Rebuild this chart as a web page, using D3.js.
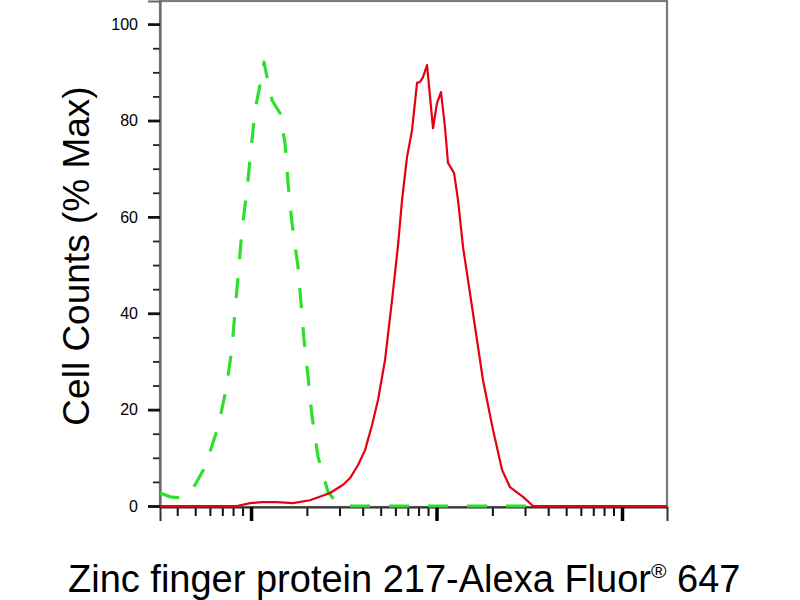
<!DOCTYPE html>
<html>
<head>
<meta charset="utf-8">
<script src="https://cdn.jsdelivr.net/npm/d3@7/dist/d3.min.js"></script>
<style>
  html, body { margin: 0; padding: 0; background: #fff; }
  svg { display: block; }
  text { font-family: "Liberation Sans", Arial, sans-serif; fill: #000; }
</style>
</head>
<body>
<svg id="chart" width="800" height="600"></svg>
<script>
// ---- data ----
// isotype control (green dashed)
const controlX = [32.3, 36.6, 41.4, 48.1, 56.5, 66.4, 73.3, 79.0, 82.0, 85.1, 89.4, 95.1, 100, 105.1, 113.2, 117.5, 123.5, 129.8, 143.3, 152.5, 158.3, 166.3, 179.2, 186.0, 193.1, 202.9, 213.3, 229.7, 260.1, 290.8, 321.1, 3614];
const controlY = [2.7, 1.9, 1.7, 3.3, 8.1, 16.4, 24.1, 32.8, 40.7, 47.5, 57.3, 65.6, 73.9, 82.2, 88.4, 92.1, 88.0, 84.2, 81.5, 75.3, 67.0, 58.7, 49.6, 42.1, 34.4, 26.8, 18.5, 10.2, 2.9, 0.6, 0, 0];
// stained sample (red solid)
const sampleX = [32.3, 84.0, 98.8, 114.6, 138.1, 168.4, 208.0, 266.7, 313.3, 341.8, 377.5, 411.8, 449.2, 483.7, 527.8, 575.6, 620.2, 651.7, 693.4, 737.9, 785.1, 815.0, 845.8, 888.9, 957.4, 1006, 1057, 1111, 1153, 1243, 1306, 1390, 1573, 1781, 2016, 2255, 2490, 2926, 3314, 17481];
const sampleY = [0, 0, 0.6, 0.8, 0.8, 0.6, 1.2, 2.7, 4.4, 5.8, 8.5, 11.6, 16.8, 22.0, 30.3, 42.7, 54.1, 63.5, 72.4, 78.0, 87.8, 88.0, 89.0, 91.5, 78.4, 83.6, 85.9, 78.6, 71.2, 69.1, 63.5, 53.7, 40.0, 26.1, 15.8, 7.5, 3.9, 1.9, 0, 0];

const yMajorTicks = [0, 20, 40, 60, 80, 100];
const yMinorTicks = [5, 10, 15, 25, 30, 35, 45, 50, 55, 65, 70, 75, 85, 90, 95];
const xMajorTicks = [100, 1000, 10000];
const xMinorTicks = [40, 50, 60, 70, 80, 90, 200, 300, 400, 500, 600, 700, 800, 900, 2000, 3000, 4000, 5000, 6000, 7000, 8000, 9000];

const xDomain = [32.3, 17481];
const yDomain = [0, 104.8];

const yLabel = "Cell Counts (% Max)";
const xLabelMain = "Zinc finger protein 217-Alexa Fluor";
const xLabelSup = "®";
const xLabelEnd = " 647";

// ---- layout ----
const L = 160, R = 667, T = 1, B = 506;
const svg = d3.select("#chart");

const x = d3.scaleLog().domain(xDomain).range([L, R]);
const y = d3.scaleLinear().domain(yDomain).range([B, T]);

// frame
svg.append("rect")
  .attr("x", L).attr("y", T).attr("width", R - L).attr("height", B + 1 - T)
  .attr("fill", "none").attr("stroke", "#7a7a7a").attr("stroke-width", 2.2);

// y axis minor ticks
const gyMinor = svg.append("g").attr("transform", `translate(${L},0)`)
  .call(d3.axisLeft(y).tickValues(yMinorTicks).tickSize(7).tickFormat(""));
gyMinor.select(".domain").remove();
gyMinor.selectAll("line").attr("stroke", "#222").attr("stroke-width", 1.8);

// y axis major ticks with labels
const gy = svg.append("g").attr("transform", `translate(${L},0)`)
  .call(d3.axisLeft(y).tickValues(yMajorTicks).tickSize(12).tickPadding(10));
gy.select(".domain").attr("stroke", "#6a6a6a").attr("stroke-width", 2.2);
gy.selectAll("line").attr("stroke", "#111").attr("stroke-width", 2.8);
gy.selectAll("text")
  .style("font-family", "'Liberation Sans', Arial, sans-serif")
  .style("font-size", "16px").attr("fill", "#000");

// x axis minor ticks
const gxMinor = svg.append("g").attr("transform", `translate(0,${B + 1})`)
  .call(d3.axisBottom(x).tickValues(xMinorTicks).tickSize(9).tickFormat(""));
gxMinor.select(".domain").remove();
gxMinor.selectAll("line").attr("stroke", "#111").attr("stroke-width", 2);

// x axis major ticks
const gx = svg.append("g").attr("transform", `translate(0,${B + 1})`)
  .call(d3.axisBottom(x).tickValues(xMajorTicks).tickSize(14).tickFormat(""));
gx.select(".domain").attr("stroke", "#333").attr("stroke-width", 2);
gx.selectAll("line").attr("stroke", "#000").attr("stroke-width", 3.5);

// curves
const line = d3.line().x(d => x(d[0])).y(d => y(d[1]));

const control = controlX.map((v, i) => [v, controlY[i]]);
const sample = sampleX.map((v, i) => [v, sampleY[i]]);

svg.append("path").datum(control)
  .attr("d", line)
  .attr("fill", "none")
  .attr("stroke", "#2ee02e")
  .attr("stroke-width", 3.2)
  .attr("stroke-dasharray", "20,19")
  .attr("stroke-linejoin", "round");

svg.append("path").datum(sample)
  .attr("d", line)
  .attr("fill", "none")
  .attr("stroke", "#e60012")
  .attr("stroke-width", 2.2)
  .attr("stroke-linejoin", "round");

// axis titles
svg.append("text")
  .attr("transform", "translate(89,256) rotate(-90)")
  .attr("text-anchor", "middle")
  .style("font-size", "37px")
  .text(yLabel);

const xt = svg.append("text")
  .attr("x", 68).attr("y", 592)
  .attr("text-anchor", "start")
  .style("font-size", "38px");
xt.append("tspan").text(xLabelMain);
xt.append("tspan").attr("dy", -14).style("font-size", "21px").text(xLabelSup);
xt.append("tspan").attr("dy", 14).text(xLabelEnd);
</script>
</body>
</html>
